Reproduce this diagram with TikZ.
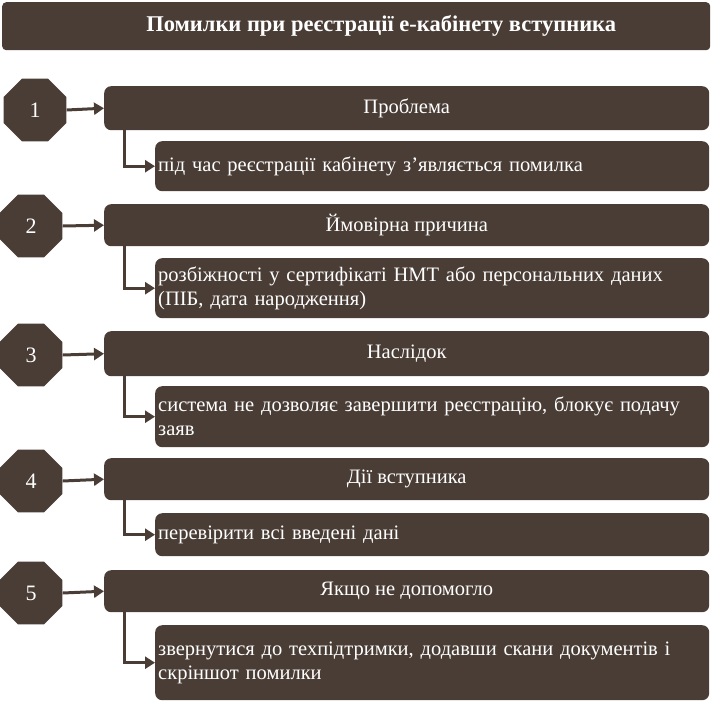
\documentclass[tikz,border=0pt]{standalone}
\usepackage{fontspec}
\setmainfont{Liberation Serif}
\usetikzlibrary{shapes.geometric,arrows.meta}
\definecolor{brown}{HTML}{4A3D36}
\tikzset{
  box/.style={fill=brown, rounded corners=7pt, text=white, font=\fontsize{20.5}{24}\selectfont, inner sep=0pt},
  head/.style={box, minimum width=605pt, anchor=north west},
  sub/.style={box, minimum width=554pt, anchor=north west, inner xsep=3pt, text width=548pt, align=left},
  num/.style={regular polygon, regular polygon sides=8, minimum size=68pt, fill=brown, text=white, font=\fontsize{22}{24}\selectfont, inner sep=0pt},
  link/.style={draw=brown, line width=3pt, -{Triangle[length=10pt,width=12pt]}}
}
\begin{document}
\begin{tikzpicture}[x=1pt,y=-1pt]
\useasboundingbox (0,0) rectangle (712,710);

\node[box, minimum width=708pt, minimum height=48pt, anchor=north west, font=\bfseries\fontsize{22.5}{26}\selectfont, rounded corners=4pt] (title) at (2,2) {\hspace*{50pt}Помилки при реєстрації е-кабінету вступника};

\node[num] (n1) at (35,110) {1};
\node[head, minimum height=44pt] (h1) at (104,86) {Проблема};
\node[sub, minimum height=50pt] (s1) at (155,141) {під час реєстрації кабінету з’являється помилка};

\node[num] (n2) at (31,226) {2};
\node[head, minimum height=42pt] (h2) at (104,204) {Ймовірна причина};
\node[sub, minimum height=60pt] (s2) at (155,258) {розбіжності у сертифікаті НМТ або персональних даних\\(ПІБ, дата народження)};

\node[num] (n3) at (31,355) {3};
\node[head, minimum height=45pt] (h3) at (104,331) {Наслідок};
\node[sub, minimum height=61pt] (s3) at (155,386) {система не дозволяє завершити реєстрацію, блокує подачу\\заяв};

\node[num] (n4) at (31,481) {4};
\node[head, minimum height=42pt] (h4) at (104,458) {Дії вступника};
\node[sub, minimum height=43pt] (s4) at (155,513) {перевірити всі введені дані};

\node[num] (n5) at (31,593) {5};
\node[head, minimum height=42pt] (h5) at (104,570) {Якщо не допомогло};
\node[sub, minimum height=75pt] (s5) at (155,625) {звернутися до техпідтримки, додавши скани документів і\\скріншот помилки};

\foreach \i in {1,...,5} {
  \draw[link] (n\i.east) -- (h\i.west);
  \draw[link] ([xshift=20pt]h\i.south west) |- (s\i.west);
}

\end{tikzpicture}
\end{document}
